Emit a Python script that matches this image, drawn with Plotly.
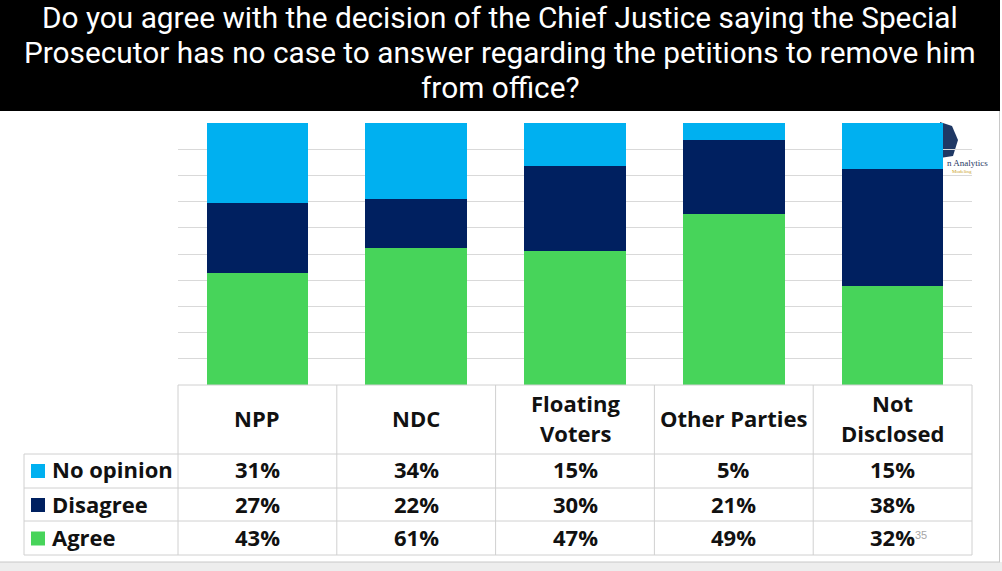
import plotly.graph_objects as go

W, H = 1002, 571

categories = ["NPP", "NDC", "Floating Voters", "Other Parties", "Not Disclosed"]
header_lines = [["NPP"], ["NDC"], ["Floating", "Voters"], ["Other Parties"], ["Not", "Disclosed"]]
series_names = ["No opinion", "Disagree", "Agree"]
no_opinion = [31, 34, 15, 5, 15]
disagree = [27, 22, 30, 21, 38]
agree = [43, 61, 47, 49, 32]
colors = {"No opinion": "#00B0F0", "Disagree": "#002060", "Agree": "#47D45A"}
title_lines = [
    "Do you agree with the decision of the Chief Justice saying the Special",
    "Prosecutor has no case to answer regarding the petitions to remove him",
    "from office?",
]

def px(x):
    return x / W

def py(y):
    return 1 - y / H

PL, PR, PT, PB = 178, 972, 123, 385

fig = go.Figure()
for name, vals in [("Agree", agree), ("Disagree", disagree), ("No opinion", no_opinion)]:
    fig.add_trace(go.Bar(x=categories, y=vals, name=name, marker=dict(color=colors[name], line=dict(width=0)),
                         hoverinfo="skip"))

fig.update_layout(
    width=W, height=H, margin=dict(l=0, r=0, t=0, b=0),
    paper_bgcolor="white", plot_bgcolor="white",
    barmode="stack", barnorm="percent", bargap=0.36, showlegend=False,
    xaxis=dict(domain=[px(PL), px(PR)], showticklabels=False, showgrid=False, zeroline=False, showline=False, ticks=""),
    yaxis=dict(domain=[py(PB), py(PT)], range=[0, 100], dtick=10, showticklabels=False, showgrid=True,
               gridcolor="#D9D9D9", gridwidth=1, zeroline=False, showline=False, ticks=""),
)

shapes = []
ann = []
# Title box
shapes.append(dict(type="rect", xref="paper", yref="paper", x0=0, x1=px(1000), y0=py(111), y1=1,
                   fillcolor="black", line=dict(width=0), layer="above"))
title_font = "Roboto, Liberation Sans, sans-serif"
for i, t in enumerate(title_lines):
    ann.append(dict(text=t, x=px(500), y=py(17.5 + 35 * i), xref="paper", yref="paper", showarrow=False,
                    xanchor="center", yanchor="middle", font=dict(family=title_font, size=29.8, color="white")))

# slide frame
shapes.append(dict(type="rect", xref="paper", yref="paper", x0=0, x1=1, y0=0, y1=py(562),
                   fillcolor="#EDEDED", line=dict(width=0), layer="below"))
shapes.append(dict(type="line", xref="paper", yref="paper", x0=0, x1=px(1000), y0=py(562), y1=py(562),
                   line=dict(color="#C8C8C8", width=1)))
shapes.append(dict(type="line", xref="paper", yref="paper", x0=px(999.5), x1=px(999.5), y0=py(562), y1=py(111),
                   line=dict(color="#C8C8C8", width=1)))

# logo (partly hidden)
shapes.append(dict(type="path", xref="paper", yref="paper",
                   path="M {} {} L {} {} L {} {} L {} {} L {} {} Z".format(
                       px(940), py(122), px(952), py(126), px(958), py(140), px(953), py(156), px(940), py(158)),
                   fillcolor="#1F3864", line=dict(width=0), layer="below"))
ann.append(dict(text="n Analytics", x=px(945), y=py(163), xref="paper", yref="paper", showarrow=False,
                xanchor="left", yanchor="middle", font=dict(family="Liberation Serif", size=9, color="#1F3864")))
ann.append(dict(text="Modeling", x=px(950), y=py(171), xref="paper", yref="paper", showarrow=False,
                xanchor="left", yanchor="middle", font=dict(family="Liberation Serif", size=5, color="#C9A227")))

# table
grid = "#D0D0D0"
ncat = len(categories)
colw = (PR - PL) / ncat
col_x = [PL + colw * i for i in range(ncat + 1)]
row_y = [385, 454, 488, 521, 555]
for i, x in enumerate(col_x):
    shapes.append(dict(type="line", xref="paper", yref="paper", x0=px(x), x1=px(x), y0=py(385), y1=py(555),
                       line=dict(color=grid, width=1)))
shapes.append(dict(type="line", xref="paper", yref="paper", x0=px(24), x1=px(24), y0=py(454), y1=py(555),
                   line=dict(color=grid, width=1)))
shapes.append(dict(type="line", xref="paper", yref="paper", x0=px(PL), x1=px(PR), y0=py(385), y1=py(385),
                   line=dict(color=grid, width=1)))
for y in row_y[1:]:
    shapes.append(dict(type="line", xref="paper", yref="paper", x0=px(24), x1=px(PR), y0=py(y), y1=py(y),
                       line=dict(color=grid, width=1)))

tfont = "Open Sans, Inter, Liberation Sans, Arial, sans-serif"
tsize = 22
for i, lines in enumerate(header_lines):
    cx = (col_x[i] + col_x[i + 1]) / 2
    n = len(lines)
    for j, t in enumerate(lines):
        cy = 418 + (j - (n - 1) / 2) * 30
        ann.append(dict(text="<b>%s</b>" % t, x=px(cx), y=py(cy), xref="paper", yref="paper", showarrow=False,
                        xanchor="center", yanchor="middle", font=dict(family=tfont, size=tsize, color="#111111")))

ann.append(dict(text="35", x=px(913), y=py(535), xref="paper", yref="paper", showarrow=False,
                xanchor="left", yanchor="middle", font=dict(family="Liberation Sans", size=11, color="#A6A6A6")))

rows = [("No opinion", no_opinion), ("Disagree", disagree), ("Agree", agree)]
row_c = [471, 505, 538.5]
for r, (name, vals) in enumerate(rows):
    cy = row_c[r]
    shapes.append(dict(type="rect", xref="paper", yref="paper", x0=px(31), x1=px(45), y0=py(cy + 7), y1=py(cy - 7),
                       fillcolor=colors[name], line=dict(width=0)))
    ann.append(dict(text="<b>%s</b>" % name, x=px(50), y=py(cy - 1.5), xref="paper", yref="paper", showarrow=False,
                    xanchor="left", yanchor="middle", font=dict(family=tfont, size=tsize, color="#111111")))
    for i, v in enumerate(vals):
        cx = (col_x[i] + col_x[i + 1]) / 2
        ann.append(dict(text="<b>%d%%</b>" % v, x=px(cx), y=py(cy - 1.5), xref="paper", yref="paper", showarrow=False,
                        xanchor="center", yanchor="middle", font=dict(family=tfont, size=tsize, color="#111111")))

fig.update_layout(shapes=shapes, annotations=ann)
fig.write_html("out.html")
